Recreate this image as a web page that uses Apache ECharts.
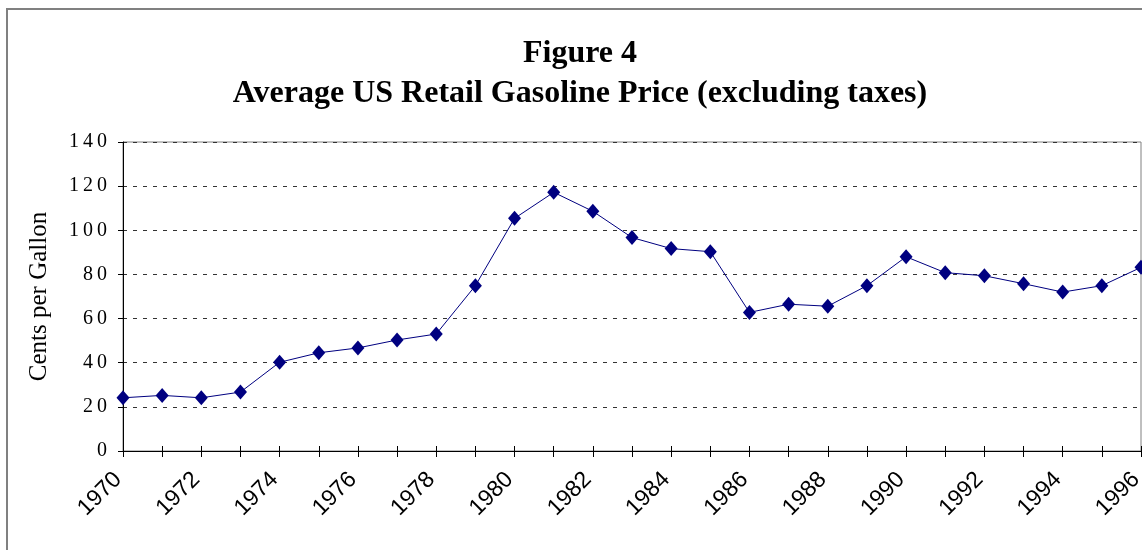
<!DOCTYPE html>
<html>
<head>
<meta charset="utf-8">
<title>Average US Retail Gasoline Price</title>
<script src="https://cdn.jsdelivr.net/npm/echarts@6/dist/echarts.min.js"></script>
<style>
	html, body { margin: 0; padding: 0; background: #fff; }
	#main { width: 1142px; height: 550px; }
</style>
</head>
<body>
<div id="main"></div>
<script>
// years on the x axis
var years = ['1970','1971','1972','1973','1974','1975','1976','1977','1978','1979',
	'1980','1981','1982','1983','1984','1985','1986','1987','1988','1989',
	'1990','1991','1992','1993','1994','1995','1996'];

// cents per gallon
var prices = [24.1, 25.2, 24.1, 26.7, 40.2, 44.5, 46.7, 50.3, 53.0, 74.9,
	105.4, 117.2, 108.6, 96.7, 91.7, 90.3, 62.8, 66.5, 65.6, 74.9,
	88.0, 80.8, 79.4, 75.8, 72.0, 74.9, 83.2];

var yTicks = [0, 20, 40, 60, 80, 100, 120, 140];

var titleLines = ['Figure 4', 'Average US Retail Gasoline Price (excluding taxes)'];
var yName = 'Cents per Gallon';

function spaced(v) {
	return String(v).split('').join('\u2009');
}

function display() {
	var myChart = echarts.init(document.getElementById('main'));

	var option = {
		backgroundColor: '#fff',
		animation: false,
		title: {
			text: titleLines.join('\n'),
			left: 575,
			top: 29,
			textAlign: 'center',
			textStyle: {
				fontFamily: 'Liberation Serif',
				fontWeight: 'bold',
				fontSize: 32,
				lineHeight: 40,
				color: '#000'
			}
		},
		graphic: [
			{
				type: 'rect',
				shape: { x: 7, y: 9, width: 1200, height: 600 },
				style: { fill: null, stroke: '#808080', lineWidth: 2 },
				z: -1
			}
		],
		grid: {
			left: 123,
			right: 1,
			top: 142,
			bottom: 99,
			outerBoundsMode: 'none',
			containLabel: false,
			show: true,
			borderColor: '#808080',
			borderWidth: 1
		},
		xAxis: [
			{
				type: 'category',
				data: years,
				boundaryGap: false,
				axisLine: { lineStyle: { color: '#000', width: 1 } },
				axisTick: { show: true, length: 6, interval: 0, lineStyle: { color: '#000' } },
				axisLabel: {
					interval: 1,
					rotate: 45,
					margin: 20,
					padding: [0, 7, 0, 0],
					fontFamily: 'Liberation Sans',
					fontSize: 23,
					color: '#000'
				},
				splitLine: { show: false }
			},
			{
				type: 'category',
				data: years,
				boundaryGap: false,
				position: 'bottom',
				axisLine: { show: false },
				axisTick: { show: true, inside: true, length: 5, interval: 0, lineStyle: { color: '#000' } },
				axisLabel: { show: false },
				splitLine: { show: false }
			}
		],
		yAxis: {
			type: 'value',
			min: yTicks[0],
			max: yTicks[yTicks.length - 1],
			interval: yTicks[1] - yTicks[0],
			name: yName,
			nameLocation: 'middle',
			nameGap: 71,
			nameTextStyle: {
				fontFamily: 'Liberation Serif',
				fontSize: 25,
				color: '#000'
			},
			axisLine: { show: true, lineStyle: { color: '#000', width: 1 } },
			axisTick: { show: true, length: 5, lineStyle: { color: '#000' } },
			axisLabel: {
				margin: 16,
				fontFamily: 'Liberation Serif',
				fontSize: 20,
				color: '#000',
				formatter: spaced
			},
			splitLine: {
				show: true,
				lineStyle: { color: '#333', type: [4, 6], width: 1 }
			}
		},
		series: [
			{
				name: yName,
				type: 'line',
				data: prices,
				symbol: 'diamond',
				symbolSize: [13, 15],
				itemStyle: { color: '#000080' },
				lineStyle: { color: '#000080', width: 1 }
			}
		]
	};

	myChart.setOption(option);
}

display();
</script>
</body>
</html>
